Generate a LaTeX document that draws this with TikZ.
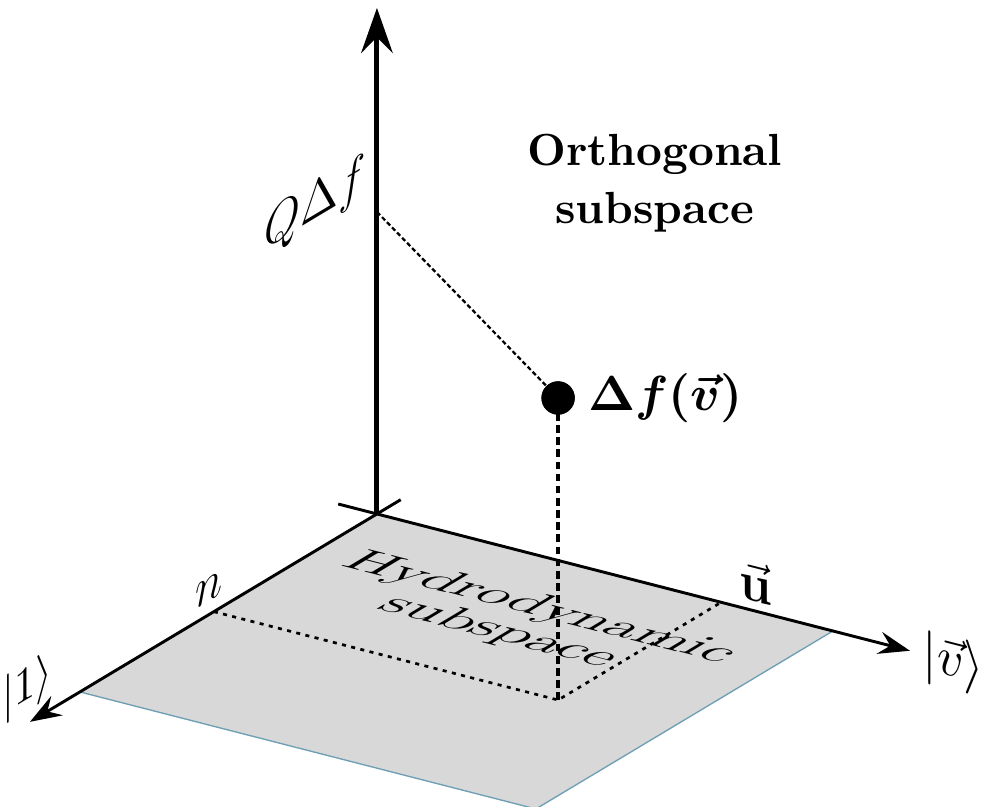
\documentclass[tikz,border=0pt]{standalone}
\usepackage{amsmath, amssymb}
\usepackage{bm}
\usetikzlibrary{arrows.meta, positioning}
\definecolor{planegray}{HTML}{D8D8D8}
\definecolor{planeedge}{HTML}{6E9FB5}

\begin{document}
\begin{tikzpicture}[
    x={(-2.320cm,-1.390cm)}, y={(3.561cm,-0.914cm)}, z={(0cm,1cm)},
    axisline/.style={line width=0.65pt, -{Stealth[length=7pt, width=5pt, inset=2.5pt]}},
    mainaxis/.style={line width=1.1pt, -{Stealth[length=10pt, width=7pt, inset=3.5pt]}},
    projline/.style={line width=0.6pt, dash pattern=on 0.9pt off 1.2pt},
    dropline/.style={line width=0.9pt, dash pattern=on 1.7pt off 1pt},
    qline/.style={line width=0.5pt, dash pattern=on 1pt off 0.6pt},
    onelabel/.style={cm={0.858,0.514,0,1,(0,0)}, inner sep=1pt},
    vlabel/.style={cm={0.969,-0.249,0,1,(0,0)}, inner sep=1pt},
    planetext/.style={cm={1.22,-0.313,0.815,0.488,(0,0)}, align=center, inner sep=0pt,
      font=\fontsize{11}{11}\selectfont},
  ]
  \useasboundingbox (-2.944cm,-2.288cm) rectangle (4.749cm,4.014cm);

  % points of the picture
  \coordinate (o) at (0,0,0);
  \coordinate (oneback) at (-0.08,0,0);
  \coordinate (vback) at (0,-0.085,0);
  \coordinate (onetip) at (1.168,0,0);
  \coordinate (vtip) at (0,1.169,0);
  \coordinate (ztip) at (0,0,3.952);
  \coordinate (nn) at (0.549,0,0);
  \coordinate (uu) at (0,0.755,0);
  \coordinate (foot) at (0.549,0.755,0);
  \coordinate (qf) at (0,0,2.359);

  % hydrodynamic plane
  \fill[planegray] (0,0,0) -- (1,0,0) -- (1,1,0) -- (0,1,0) -- cycle;
  \draw[planeedge, line width=0.3pt] (1,0,0) -- (1,1,0) -- (0,1,0);
  \node[planetext] (hydro) at (0.273,0.491,0) {Hydrodynamic\\subspace};
  \draw[projline] (nn) -- (foot) -- (uu);

  % axes
  \draw[axisline] (oneback) -- (onetip);
  \draw[axisline] (vback) -- (vtip);
  \draw[mainaxis] (o) -- (ztip);

  % the point and its projections
  \node[circle, fill, inner sep=0pt, minimum size=0.26cm] (pt) at (0.549,0.755,2.359) {};
  \draw[dropline] (foot) -- (pt.center);
  \draw[qline] (qf) -- (pt.center);
  \node[circle, fill, inner sep=0pt, minimum size=0.26cm] at (pt) {};
  \node[right=0.2mm of pt, inner sep=2pt, font=\fontsize{11}{13}\selectfont] (lpt) {$\bm{\Delta f(\vec{v})}$};

  % labels
  \node[onelabel, font=\fontsize{11}{13}\selectfont] (lone) at ([shift={(-0.023cm,0.27cm)}]onetip) {$|1\rangle$};
  \node[vlabel, font=\fontsize{11.5}{13}\selectfont] (lv) at ([shift={(0.34cm,-0.10cm)}]vtip) {$|\vec{v}\rangle$};
  \node[vlabel, font=\fontsize{12}{14}\selectfont] (lu) at ([shift={(0.27cm,0.16cm)}]uu) {$\vec{\mathbf{u}}$};
  \node[onelabel, font=\fontsize{12}{14}\selectfont] (ln) at ([shift={(-0.04cm,0.17cm)}]nn) {$n$};
  \node[onelabel, font=\fontsize{12}{14}\selectfont] (lq) at ([shift={(-0.48cm,0.05cm)}]qf) {$Q\Delta f$};
  \node[font=\bfseries, align=center] (orth) at (2.17cm,2.585cm) {Orthogonal\\[1pt]subspace};
\end{tikzpicture}
\end{document}
